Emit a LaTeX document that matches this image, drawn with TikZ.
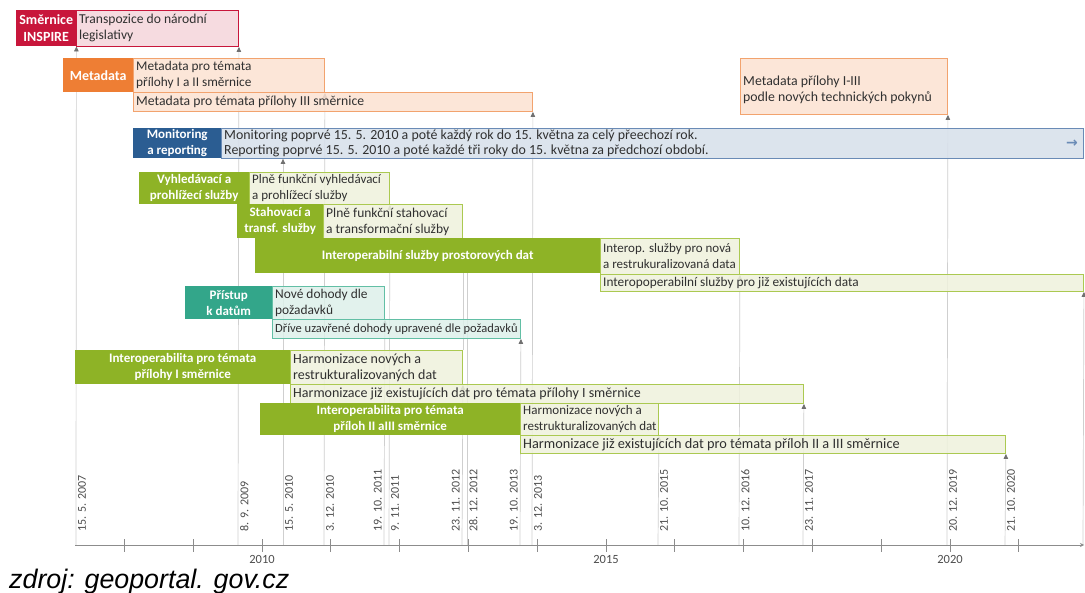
\documentclass[tikz,border=0pt]{standalone}
\usepackage{fontspec}
\setmainfont{Carlito}
\newfontfamily\capfont{Liberation Sans}
\newfontfamily\symfont{DejaVu Sans}
\usetikzlibrary{arrows.meta,backgrounds}
\definecolor{redL}{HTML}{C8163B}
\definecolor{redF}{HTML}{F5D5DB}
\definecolor{orL}{HTML}{EE7E34}
\definecolor{orF}{HTML}{FCE2D2}
\definecolor{orD}{HTML}{F2A36E}
\definecolor{blL}{HTML}{2B5D92}
\definecolor{blF}{HTML}{D7E0EB}
\definecolor{blD}{HTML}{6A8BB6}
\definecolor{grL}{HTML}{8EB326}
\definecolor{grF}{HTML}{EFF2DC}
\definecolor{grD}{HTML}{ABC951}
\definecolor{tlL}{HTML}{33A68A}
\definecolor{tlF}{HTML}{DDF0EA}
\definecolor{tlD}{HTML}{62BFA5}
\definecolor{txt}{HTML}{303030}
\definecolor{vln}{HTML}{CFCFCF}
\definecolor{mk}{HTML}{707070}
\definecolor{dtc}{HTML}{4D4D4D}
\definecolor{axc}{HTML}{8C8C8C}
\newcommand{\fs}[1]{\fontsize{#1}{16}\selectfont}
\begin{document}
\begin{tikzpicture}[x=1pt,y=-1pt,
  lab/.style={fill=#1, text=white, anchor=north west, inner sep=0pt, align=center,
    font=\fontsize{13}{16}\selectfont\bfseries},
  bx/.style 2 args={fill=#1, draw=#2, line width=0.9pt, anchor=north west, inner sep=0pt, fill opacity=0.85},
  btx/.style={anchor=west, inner xsep=3pt, inner ysep=0pt, align=left, text=txt,
    font=\fontsize{13}{16}\selectfont},
  vl/.style={draw=vln, line width=0.7pt, -{Triangle[width=4.5pt,length=5pt,color=mk]}},
  vlp/.style={draw=vln, line width=0.7pt},
  dtr/.style={rotate=90, anchor=north west, inner sep=0.5pt, text=dtc, font=\fontsize{12}{12}\selectfont},
  dtl/.style={rotate=90, anchor=south west, inner sep=0.5pt, text=dtc, font=\fontsize{12}{12}\selectfont},
  yr/.style={inner sep=0pt, text=dtc, font=\fontsize{12.5}{12.5}\selectfont},
  axis/.style={draw=axc, line width=0.8pt},
]
\useasboundingbox (0,0) rectangle (1085,593);

% ---- bars ----
\node[lab=redL, minimum width=60pt, minimum height=36pt, font=\fontsize{14}{17}\selectfont\bfseries] (smer) at (16,10) {Směrnice\\INSPIRE};
\node[bx={redF}{redL}, minimum width=162pt, minimum height=36pt] (transp) at (76,10) {};
\node[btx, font=\fs{13.6}] (transpt) at (transp.west) {Transpozice do národní\\legislativy};

\node[lab=orL, minimum width=70pt, minimum height=34pt, font=\fontsize{14}{16}\selectfont\bfseries] (meta) at (63,58) {Metadata};
\node[bx={orF}{orD}, minimum width=191pt, minimum height=34pt] (meta1) at (133,58) {};
\node[btx, font=\fs{13.3}] (meta1t) at (meta1.west) {Metadata pro témata\\přílohy I a II směrnice};
\node[bx={orF}{orD}, minimum width=399pt, minimum height=19pt] (meta2) at (133,92) {};
\node[btx, font=\fs{13.7}] (meta2t) at (meta2.west) {Metadata pro témata přílohy III směrnice};
\node[bx={orF}{orD}, minimum width=207pt, minimum height=56pt] (meta3) at (740,58) {};
\node[btx, font=\fs{13.8}] (meta3t) at ([yshift=-3pt]meta3.west) {Metadata přílohy I-III\\podle nových technických pokynů};

\node[lab=blL, minimum width=88pt, minimum height=30pt, font=\fontsize{13}{15.5}\selectfont\bfseries] (mon) at (133,128) {Monitoring\\a reporting};
\node[bx={blF}{blD}, minimum width=862pt, minimum height=30pt] (mon1) at (221,128) {};
\node[btx, font=\fontsize{13.9}{15.5}\selectfont] (mon1t) at (mon1.west) {Monitoring poprvé 15. 5. 2010 a poté každý rok do 15. května za celý přeechozí rok.\\Reporting poprvé 15. 5. 2010 a poté každé tři roky do 15. května za předchozí období.};
\node[inner sep=0pt, text=blD, font=\symfont\bfseries\fontsize{14}{14}\selectfont] (monar) at ([xshift=-12pt]mon1.east) {→};

\node[lab=grL, minimum width=110pt, minimum height=32pt] (vyhl) at (139,172) {Vyhledávací a\\prohlížecí služby};
\node[bx={grF}{grD}, minimum width=140pt, minimum height=32pt] (vyhl1) at (249,172) {};
\node[btx] (vyhl1t) at (vyhl1.west) {Plně funkční vyhledávací\\a prohlížecí služby};

\node[lab=grL, minimum width=86pt, minimum height=34pt] (stah) at (237,204) {Stahovací a\\transf. služby};
\node[bx={grF}{grD}, minimum width=139pt, minimum height=34pt] (stah1) at (323,204) {};
\node[btx, font=\fs{13.5}] (stah1t) at (stah1.west) {Plně funkční stahovací\\a transformační služby};

\node[lab=grL, minimum width=345pt, minimum height=35pt] (iop) at (255,238) {Interoperabilní služby prostorových dat};
\node[bx={grF}{grD}, minimum width=139pt, minimum height=36pt] (iop1) at (600,238) {};
\node[btx] (iop1t) at (iop1.west) {Interop. služby pro nová\\a restrukuralizovaná data};
\node[bx={grF}{grD}, minimum width=483pt, minimum height=17pt] (iop2) at (600,274) {};
\node[btx, font=\fs{13.3}] (iop2t) at (iop2.west) {Interopoperabilní služby pro již existujících data};

\node[lab=tlL, minimum width=87pt, minimum height=33pt] (pri) at (185,286) {Přístup\\k datům};
\node[bx={tlF}{tlD}, minimum width=112pt, minimum height=33pt] (nove) at (272,286) {};
\node[btx, font=\fs{13.4}] (novet) at (nove.west) {Nové dohody dle\\požadavků};
\node[bx={tlF}{tlD}, minimum width=248pt, minimum height=19pt] (drive) at (272,319) {};
\node[btx, font=\fs{12.5}] (drivet) at (drive.west) {Dříve uzavřené dohody upravené dle požadavků};

\node[lab=grL, minimum width=215pt, minimum height=34pt] (int1) at (75,350) {Interoperabilita pro témata\\přílohy I směrnice};
\node[bx={grF}{grD}, minimum width=172pt, minimum height=34pt] (harm1) at (290,350) {};
\node[btx, font=\fs{14}] (harm1t) at (harm1.west) {Harmonizace nových a\\restrukturalizovaných dat};
\node[bx={grF}{grD}, minimum width=513pt, minimum height=19pt] (harm1b) at (290,384) {};
\node[btx, font=\fs{14}] (harm1bt) at (harm1b.west) {Harmonizace již existujících dat pro témata přílohy I směrnice};

\node[lab=grL, minimum width=260pt, minimum height=32pt] (int2) at (260,403) {Interoperabilita pro témata\\příloh II aIII směrnice};
\node[bx={grF}{grD}, minimum width=138pt, minimum height=32pt] (harm2) at (520,403) {};
\node[btx] (harm2t) at (harm2.west) {Harmonizace nových a\\restrukturalizovaných dat};
\node[bx={grF}{grD}, minimum width=485pt, minimum height=18pt] (harm2b) at (520,435) {};
\node[btx, font=\fs{14.3}] (harm2bt) at (harm2b.west) {Harmonizace již existujících dat pro témata příloh II a III směrnice};

% ---- axis ----
\coordinate (ax0) at (75,545);
\coordinate (ax1) at (1084,545);
\draw[axis, -{Stealth[length=4pt,width=4pt]}] (ax0) -- (ax1);
\foreach \i in {0,...,13} {
  \draw[axis] ({124.4+\i*68.8},539) -- ({124.4+\i*68.8},552);
}
\node[yr] (y2010) at (262,559) {2010};
\node[yr] (y2015) at (606,559) {2015};
\node[yr] (y2020) at (950,559) {2020};

% ---- date coordinates on axis ----
\coordinate (a1) at (76,545);
\coordinate (a2) at (238,545);
\coordinate (a3) at (283,545);
\coordinate (a4) at (324,545);
\coordinate (a5) at (384,545);
\coordinate (a6) at (389,545);
\coordinate (a7) at (462,545);
\coordinate (a8) at (467,545);
\coordinate (a9) at (520,545);
\coordinate (a10) at (532,545);
\coordinate (a11) at (658,545);
\coordinate (a12) at (739,545);
\coordinate (a13) at (803,545);
\coordinate (a14) at (947,545);
\coordinate (a15) at (1005,545);
\coordinate (a16) at (1083,545);

\begin{scope}[on background layer]
\fill[white] (0,0) rectangle (1085,593);
\draw[vl] (a1) -- (smer.south east);
\draw[vl] (a2) -- (transp.south east);
\draw[vl] (a3) -- (a3 |- mon1.south);
\draw[vl] (a4) -- (meta1.south east);
\draw[vl] (a5) -- (nove.south east);
\draw[vl] (a6) -- (vyhl1.south east);
\draw[vl] (a7) -- (harm1.south east);
\draw[vl] (harm1.north east) -- (stah1.south east);
\draw[vlp] (a8) -- (a8 |- iop.south);
\draw[vl] (a9) -- (drive.south east);
\draw[vl] (a10) -- (meta2.south east);
\draw[vl] (a11) -- (harm2.south east);
\draw[vl] (a12) -- (iop1.south east);
\draw[vl] (a13) -- (harm1b.south east);
\draw[vl] (a14) -- (meta3.south east);
\draw[vl] (a15) -- (harm2b.south east);
\draw[vl] (a16) -- (iop2.south east);
\end{scope}

% ---- date labels ----
\node[dtr] (t1) at ([xshift=1.5pt,yshift=13pt]a1) {15. 5. 2007};
\node[dtr] (t2) at ([xshift=1.5pt,yshift=13pt]a2) {8. 9. 2009};
\node[dtr] (t3) at ([xshift=1.5pt,yshift=13pt]a3) {15. 5. 2010};
\node[dtr] (t4) at ([xshift=1.5pt,yshift=13pt]a4) {3. 12. 2010};
\node[dtl] (t5) at ([xshift=-1.5pt,yshift=13pt]a5) {19. 10. 2011};
\node[dtr] (t6) at ([xshift=1.5pt,yshift=13pt]a6) {9. 11. 2011};
\node[dtl] (t7) at ([xshift=-1.5pt,yshift=13pt]a7) {23. 11. 2012};
\node[dtr] (t8) at ([xshift=1.5pt,yshift=13pt]a8) {28. 12. 2012};
\node[dtl] (t9) at ([xshift=-1.5pt,yshift=13pt]a9) {19. 10. 2013};
\node[dtr] (t10) at ([xshift=1.5pt,yshift=13pt]a10) {3. 12. 2013};
\node[dtr] (t11) at ([xshift=1.5pt,yshift=13pt]a11) {21. 10. 2015};
\node[dtr] (t12) at ([xshift=1.5pt,yshift=13pt]a12) {10. 12. 2016};
\node[dtr] (t13) at ([xshift=1.5pt,yshift=13pt]a13) {23. 11. 2017};
\node[dtr] (t14) at ([xshift=1.5pt,yshift=13pt]a14) {20. 12. 2019};
\node[dtr] (t15) at ([xshift=1.5pt,yshift=13pt]a15) {21. 10. 2020};

% ---- caption ----
\node[anchor=base west, inner sep=0pt, text=black, font=\capfont\itshape\fontsize{26.8}{30}\selectfont] (src) at (9,588) {zdroj: geoportal. gov.cz};
\end{tikzpicture}
\end{document}
